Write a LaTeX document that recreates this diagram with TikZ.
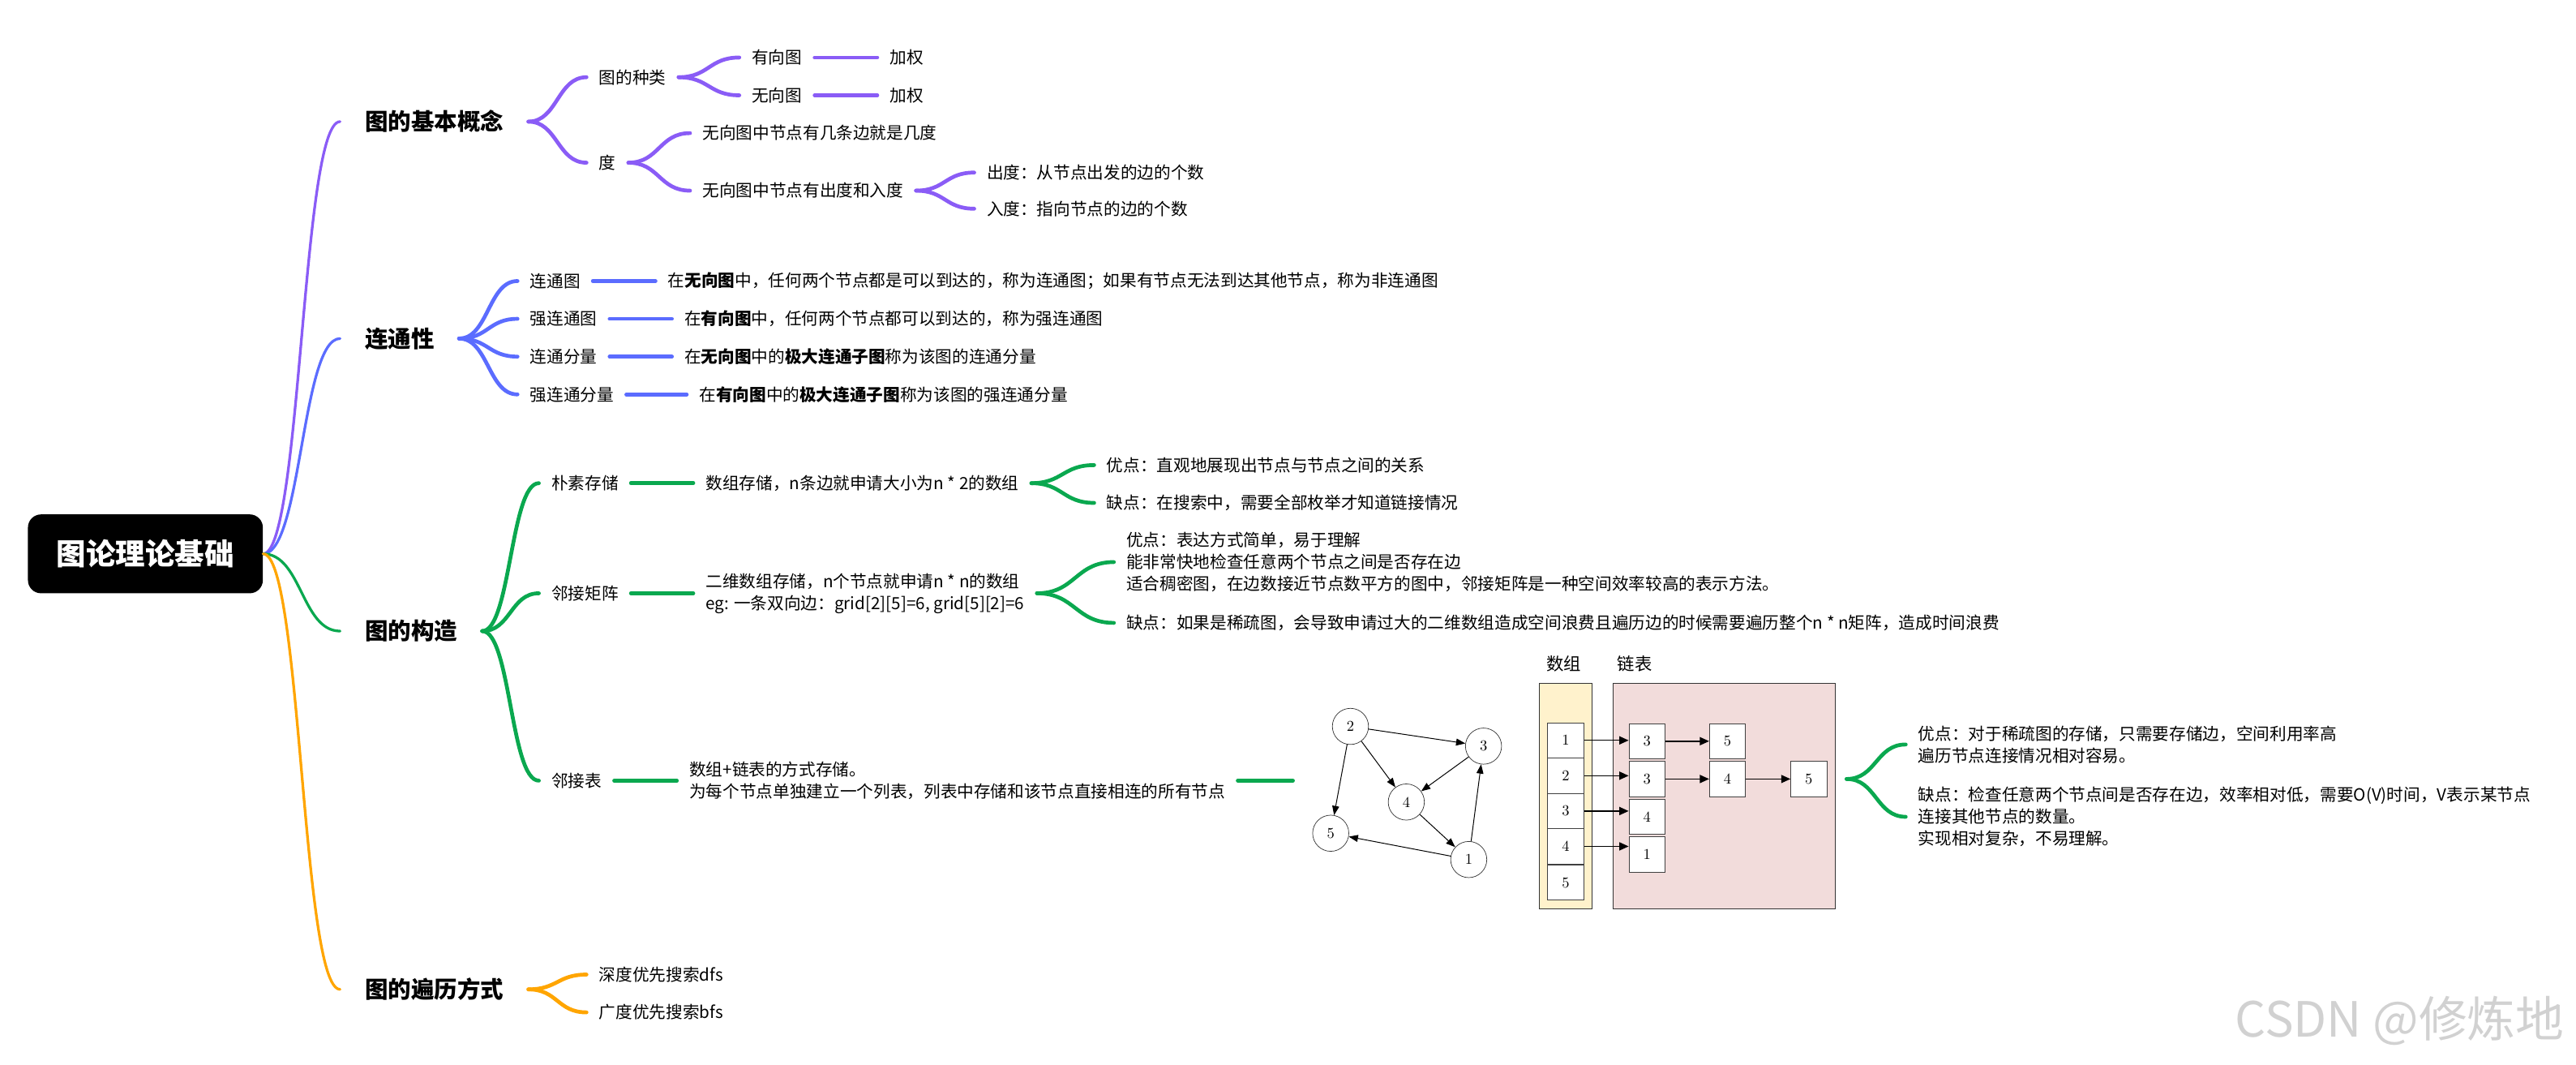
\documentclass[tikz,border=0pt]{standalone}
\usepackage{fontspec}
\setmainfont{Noto Sans CJK SC}
\newfontfamily\lmr{lmroman10-regular.otf}
\usetikzlibrary{calc,arrows.meta}
\definecolor{cpur}{HTML}{8A5CF6}
\definecolor{cblu}{HTML}{5B6CFF}
\definecolor{cgrn}{HTML}{0AA84F}
\definecolor{corg}{HTML}{FFA500}
\definecolor{cyel}{HTML}{FFF2CC}
\definecolor{cpnk}{HTML}{F2DCDB}
\begin{document}
\begin{tikzpicture}[x=0.05cm,y=-0.05cm,
  sm/.style={anchor=west,inner xsep=0.375cm,inner ysep=1pt,align=left,font=\fontsize{14.5}{19}\selectfont},
  lv/.style={anchor=west,inner xsep=0.75cm,inner ysep=1pt,font=\bfseries\fontsize{20}{24}\selectfont},
  rootbox/.style={fill=black,text=white,rounded corners=0.4cm,minimum width=7.15cm,minimum height=2.4cm,inner sep=0pt,font=\bfseries\fontsize{25.6}{30}\selectfont},
  lk/.style={line width=2.3pt,line cap=round},
  lb/.style={line width=3.3pt,line cap=round},
  brc/.style={to path={.. controls ($(\tikztostart)!0.5!(\tikztostart-|\tikztotarget)$) and ($(\tikztotarget)!0.5!(\tikztotarget-|\tikztostart)$) .. (\tikztotarget)}},
  gnode/.style={circle,draw=black!80,line width=0.5pt,minimum size=1.1cm,inner sep=0pt,font=\lmr\fontsize{13}{13}\selectfont},
  garr/.style={draw=black,line width=0.7pt,-{Triangle[length=8pt,width=6pt]}},
  cell/.style={draw=black!75,line width=0.5pt,fill=white,minimum width=1.1cm,minimum height=1.075cm,inner sep=0pt,font=\lmr\fontsize{13}{13}\selectfont},
  larr/.style={draw=black,line width=1pt,-{Triangle[length=8pt,width=7pt]}},
  wm/.style={anchor=west,text=black!18,font=\fontsize{42}{42}\selectfont}
]
\useasboundingbox (0,0) rectangle (1568,648);

% root
\node[rootbox] (root) at (88.5,337) {图论理论基础};

% level 1
\node[lv] (L1) at (207,74) {图的基本概念};
\node[lv] (L2) at (207,206) {连通性};
\node[lv] (L3) at (207,384) {图的构造};
\node[lv] (L4) at (207,602) {图的遍历方式};

\draw[lk,cpur] (root.east) to[brc] (L1.west);
\draw[lk,cblu] (root.east) to[brc] (L2.west);
\draw[lk,cgrn] (root.east) to[brc] (L3.west);
\draw[lk,corg] (root.east) to[brc] (L4.west);

% ---- branch 1
\node[sm] (zl) at (357,47) {图的种类};
\node[sm] (du) at (357,99) {度};
\node[sm] (yx) at (450,35) {有向图};
\node[sm] (wx) at (450,58) {无向图};
\node[sm] (jq1) at (534,35) {加权};
\node[sm] (jq2) at (534,58) {加权};
\node[sm] (d1) at (420,81) {无向图中节点有几条边就是几度};
\node[sm] (d2) at (420,116) {无向图中节点有出度和入度};
\node[sm] (cd) at (593,105) {出度：从节点出发的边的个数};
\node[sm] (rd) at (593,127) {入度：指向节点的边的个数};
\begin{scope}[lb,cpur]
\draw (L1.east) to[brc] (zl.west);
\draw (L1.east) to[brc] (du.west);
\draw (zl.east) to[brc] (yx.west);
\draw (zl.east) to[brc] (wx.west);
\draw (yx.east) -- (jq1.west);
\draw (wx.east) -- (jq2.west);
\draw (du.east) to[brc] (d1.west);
\draw (du.east) to[brc] (d2.west);
\draw (d2.east) to[brc] (cd.west);
\draw (d2.east) to[brc] (rd.west);
\end{scope}

% ---- branch 2
\node[sm] (lt) at (315,171) {连通图};
\node[sm] (qlt) at (315,194) {强连通图};
\node[sm] (ltfl) at (315,217) {连通分量};
\node[sm] (qltfl) at (315,240) {强连通分量};
\node[sm] (lt2) at (399,171) {在{\bfseries 无向图}中，任何两个节点都是可以到达的，称为连通图；如果有节点无法到达其他节点，称为非连通图};
\node[sm] (qlt2) at (409,194) {在{\bfseries 有向图}中，任何两个节点都可以到达的，称为强连通图};
\node[sm] (ltfl2) at (409,217) {在{\bfseries 无向图}中的{\bfseries 极大连通子图}称为该图的连通分量};
\node[sm] (qltfl2) at (418,240) {在{\bfseries 有向图}中的{\bfseries 极大连通子图}称为该图的强连通分量};
\begin{scope}[lb,cblu]
\draw (L2.east) to[brc] (lt.west);
\draw (L2.east) to[brc] (qlt.west);
\draw (L2.east) to[brc] (ltfl.west);
\draw (L2.east) to[brc] (qltfl.west);
\draw (lt.east) -- (lt2.west);
\draw (qlt.east) -- (qlt2.west);
\draw (ltfl.east) -- (ltfl2.west);
\draw (qltfl.east) -- (qltfl2.west);
\end{scope}

% ---- branch 3
\node[sm] (pu) at (328,294) {朴素存储};
\node[sm] (pu2) at (422,294) {数组存储，n条边就申请大小为n * 2的数组};
\node[sm] (pu3) at (666,283) {优点：直观地展现出节点与节点之间的关系};
\node[sm] (pu4) at (666,306) {缺点：在搜索中，需要全部枚举才知道链接情况};
\node[sm] (jz) at (328,361) {邻接矩阵};
\node[sm] (jz2) at (422,361) {二维数组存储，n个节点就申请n * n的数组\\eg: 一条双向边：grid[2][5]=6, grid[5][2]=6};
\node[sm] (jz3) at (678,342) {优点：表达方式简单，易于理解\\能非常快地检查任意两个节点之间是否存在边\\适合稠密图，在边数接近节点数平方的图中，邻接矩阵是一种空间效率较高的表示方法。};
\node[sm] (jz4) at (678,379) {缺点：如果是稀疏图，会导致申请过大的二维数组造成空间浪费且遍历边的时候需要遍历整个n * n矩阵，造成时间浪费};
\node[sm] (lj) at (328,475) {邻接表};
\node[sm] (lj2) at (412,475) {数组+链表的方式存储。\\为每个节点单独建立一个列表，列表中存储和该节点直接相连的所有节点};
\coordinate (gL) at (787,475);
\coordinate (fk) at (1124,474);
\node[sm] (lj3) at (1160,453) {优点：对于稀疏图的存储，只需要存储边，空间利用率高\\遍历节点连接情况相对容易。};
\node[sm] (lj4) at (1160,497) {缺点：检查任意两个节点间是否存在边，效率相对低，需要O(V)时间，V表示某节点\\连接其他节点的数量。\\实现相对复杂，不易理解。};
\begin{scope}[lb,cgrn]
\draw (L3.east) to[brc] (pu.west);
\draw (L3.east) to[brc] (jz.west);
\draw (L3.east) to[brc] (lj.west);
\draw (pu.east) -- (pu2.west);
\draw (jz.east) -- (jz2.west);
\draw (lj.east) -- (lj2.west);
\draw (pu2.east) to[brc] (pu3.west);
\draw (pu2.east) to[brc] (pu4.west);
\draw (jz2.east) to[brc] (jz3.west);
\draw (jz2.east) to[brc] (jz4.west);
\draw (lj2.east) -- (gL);
\draw (fk) to[brc] (lj3.west);
\draw (fk) to[brc] (lj4.west);
\end{scope}

% graph picture
\node[gnode] (g1) at (894,523) {1};
\node[gnode] (g2) at (822,442) {2};
\node[gnode] (g3) at (903,454) {3};
\node[gnode] (g4) at (856,488) {4};
\node[gnode] (g5) at (810,507) {5};
\draw[garr] (g2) -- (g3);
\draw[garr] (g2) -- (g4);
\draw[garr] (g2) -- (g5);
\draw[garr] (g3) -- (g4);
\draw[garr] (g4) -- (g1);
\draw[garr] (g1) -- (g3);
\draw[garr] (g1) -- (g5);

% array + linked list
\node[fill=cyel,draw=black!80,line width=0.6pt,minimum width=1.6cm,minimum height=6.85cm,inner sep=0pt] (arr) at (953,484.5) {};
\node[fill=cpnk,draw=black!80,line width=0.6pt,minimum width=6.75cm,minimum height=6.85cm,inner sep=0pt] (lst) at (1049.5,484.5) {};
\node[font=\fontsize{15}{15}\selectfont] (tarr) at (952,404) {数组};
\node[font=\fontsize{15}{15}\selectfont] (tlst) at (995,404) {链表};
\node[cell] (a1) at (953,450.5) {1};
\node[cell] (a2) at (953,472) {2};
\node[cell] (a3) at (953,493.5) {3};
\node[cell] (a4) at (953,515) {4};
\node[cell] (a5) at (953,537) {5};
\node[cell] (b1) at (1002.5,451) {3};
\node[cell] (b2) at (1002.5,474) {3};
\node[cell] (b3) at (1002.5,497) {4};
\node[cell] (b4) at (1002.5,520) {1};
\node[cell] (c1) at (1051.5,451) {5};
\node[cell] (c2) at (1051.5,474) {4};
\node[cell] (d2c) at (1101,474) {5};
\draw[larr] (a1.east) -- (a1.east-|b1.west);
\draw[larr] (a2.east) -- (a2.east-|b2.west);
\draw[larr] (a3.east) -- (a3.east-|b3.west);
\draw[larr] (a4.east) -- (a4.east-|b4.west);
\draw[larr] (b1.east) -- (c1.west);
\draw[larr] (b2.east) -- (c2.west);
\draw[larr] (c2.east) -- (d2c.west);

% ---- branch 4
\node[sm] (dfs) at (357,593) {深度优先搜索dfs};
\node[sm] (bfs) at (357,616) {广度优先搜索bfs};
\begin{scope}[lb,corg]
\draw (L4.east) to[brc] (dfs.west);
\draw (L4.east) to[brc] (bfs.west);
\end{scope}

% watermark
\node[wm] (wmk) at (1358,621) {CSDN @修炼地};
\end{tikzpicture}
\end{document}
